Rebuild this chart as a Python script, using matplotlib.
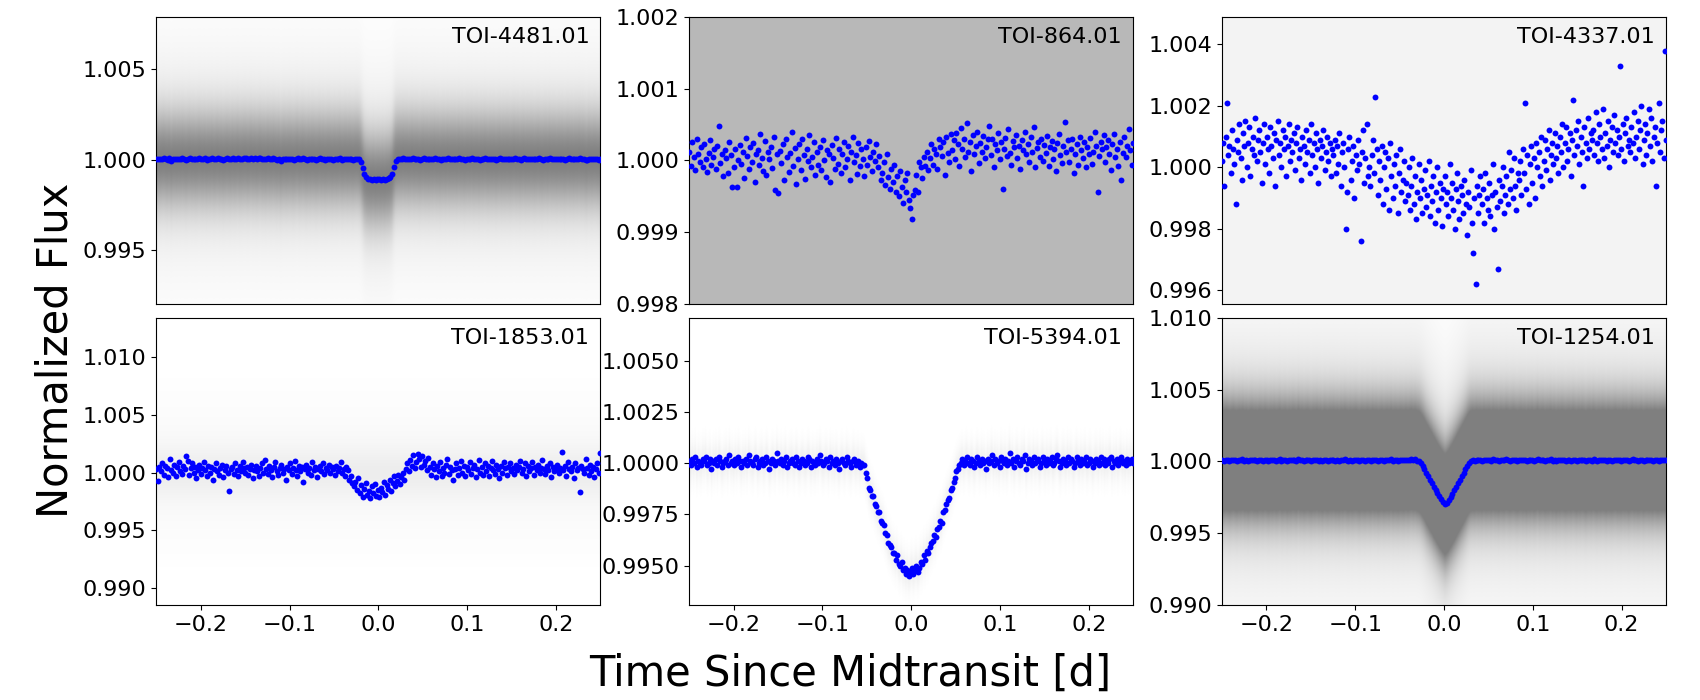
import matplotlib
matplotlib.use("Agg")
import matplotlib.pyplot as plt
from matplotlib.ticker import FormatStrFormatter
import numpy as np

# binned flux per target, offsets from 1.0 (scale given in flux_unit)
toi_names = ["TOI-4481.01", "TOI-864.01", "TOI-4337.01",
             "TOI-1853.01", "TOI-5394.01", "TOI-1254.01"]

flux_4481 = [
    4, 6, 2, 5, 8, 3, 1, 7, -6, 4, 5, 2, 6, 3, 7, 4, 1, 5, 8, 3, 6, 2, 4, 9,
    5, 3, 7, 1, 6, 4, 8, 2, 5, 9, 3, 6, 1, 4, 7, 5, 2, 8, 4, 6, 10, 3, 5, 7,
    9, 4, 6, 11, 5, 8, 3, 7, 10, 4, 6, 2, 8, 5, 3, 7, 4, 1, 6, -5, 3, 5, 2, 4,
    6, 3, 1, 5, 10, 2, 4, 7, 3, 0, 5, 2, 6, 4, 1, 3, 7, 2, 5, 0, 4, 6, 3, 1,
    5, 2, 4, 7, 1, 3, 6, 2, 5, 3, 1, 4, 6, 2, -12, -45, -80, -98, -104, -108, -110, -105, -112, -109,
    -107, -111, -106, -110, -104, -102, -95, -78, -38, -6, 2, 5, 3, 7, 4, 6, 2, 5, 8, 3, 6, 4, 1, 5,
    7, 3, 5, 2, 6, 4, 8, 3, 5, 1, 4, 6, 2, 7, 3, 5, 4, 6, 2, 8, 3, 5, 1, 4,
    6, 3, 7, 2, 4, 5, 1, 6, 3, 8, 4, 2, 5, 3, 6, 1, 4, 7, 2, 5, 3, 6, 4, 2,
    5, 8, 3, 6, 1, 4, 7, 2, 5, 3, 6, 4, 2, 5, 7, 3, 1, 4, 6, 2, 8, 3, 5, 4,
    2, 6, 3, 5, 1, 4, 7, 3, 5, 2, 6, 4, 8, 3, 5, 1, -4, 6, 3, 2, 5, 4, 1, 3]

flux_864 = [
    12, -8, 25, 5, -14, 30, 8, -3, 18, -10, 22, 2, -16, 10, 28, -6, 4, 15, -12, 20, 48, -4, 9, -22, 14, 3, -18, 26, 7, -38,
    -9, 16, -38, 0, 21, -5, 11, -25, 31, 6, -12, 18, -2, 24, -30, 9, 14, -7, 36, 3, -15, 27, -20, 12, 1, 19, -11, 33, -41, 8,
    -46, 13, -4, 22, -28, 29, 5, -17, 10, 40, -8, 17, -33, 2, 23, -13, 30, 7, -26, 15, -1, 35, -10, 4, 26, -21, 11, -6, 19, -14,
    28, 0, -24, 14, 8, -31, 21, 3, -12, 31, -5, 16, -18, 9, 25, -9, 2, 20, -27, 12, 33, -3, 7, -19, 24, -8, 15, 1, -22, 18,
    -6, 27, 4, -15, 11, -1, 22, -10, 6, -28, -18, -2, -35, 8, -24, -40, -12, -30, -6, -44, -22, -50, -15, -38, -60, -28, -45, -18, -55, -66,
    -82, -48, -42, -20, -45, -2, -10, -25, 5, -8, 12, -14, 3, 22, -6, 15, 8, -12, 30, 18, 6, 25, -20, 33, 10, -3, 36, 14, 28, 2,
    38, 22, -8, 45, 16, 30, 5, 52, 12, 26, -15, 35, 8, 20, 40, -4, 24, 11, 34, 3, 18, 29, 48, 7, 30, -9, 22, 14, 38, 2,
    25, -40, 16, 31, 6, 43, 10, -6, 27, 18, 35, 3, 20, -12, 28, 14, 40, 8, 22, -3, 33, 12, 46, -10, 17, 26, 5, 30, -1, 21,
    10, 34, -8, 18, 27, 2, 15, -15, 24, 36, 7, -4, 20, 53, 12, 28, -2, 16, 30, -18, 8, 22, -6, 33, 14, 3, 26, -10, 19, 9,
    31, -5, 12, 40, 20, -45, 6, 25, 15, 35, -2, 18, 28, 8, -14, 22, 36, 4, 16, -8, 26, -28, 10, 32, 5, 20, 44, 14, -6, 24]

flux_4337 = [
    2, 8, -6, 10, 21, 4, 7, -2, 12, 6, 1, -12, 9, 5, 14, 3, -4, 11, 7, 15, 0, 8, 13, -3, 6, 10, 4, 16, 2, 9,
    12, 5, -5, 8, 14, 1, 10, 6, -2, 13, 7, 3, 11, -6, 9, 15, 4, 8, 0, 12, 6, 10, -3, 7, 14, 2, 9, 5, 11, -1,
    8, 13, 3, 6, -4, 10, 7, 1, 12, 5, 9, -2, 14, 4, 8, 0, 11, 6, -5, 9, 3, 7, 12, -1, 5, 10, 2, 8, -3, 6,
    4, 9, -2, 7, 1, 11, -6, 5, 8, 0, -20, -8, 6, 10, -4, 2, 7, -10, 4, -1, 9, 1, -24, 5, 12, -5, 3, 14, -3, 0,
    -6, 4, 9, -2, 23, 6, -9, 2, -4, 7, -12, 0, 5, -7, 3, -14, 8, -3, -10, 1, -6, 4, -15, -2, 6, -8, -4, 2, -11, -5,
    -9, 0, -14, -6, 3, -12, -3, -17, -8, 1, -10, -4, -15, -7, -1, -13, -9, 2, -16, -6, -11, -3, -18, -8, 0, -14, -5, -10, -19, -7,
    -3, -12, -8, -16, 1, -10, -5, -14, -20, -7, -2, -11, -17, -6, -9, -15, -4, -12, -22, -8, -13, -1, -18, -28, -10, -38, -6, -15, -9, -3,
    -12, -7, -18, -2, -10, -14, -5, -16, -9, 1, -20, -8, -13, -33, -4, -11, -6, 0, -15, -9, -3, -12, 5, -7, -1, -10, 3, -6, -14, -2,
    -4, 2, -9, 6, -2, 21, -7, 4, -12, 1, 7, -5, 3, -10, 8, 0, 5, -3, 10, -6, 2, 9, -1, 6, 12, -4, 4, 8, 1, 11,
    3, 7, -2, 10, 5, 14, 0, 8, 13, 2, 6, 11, -3, 9, 22, 4, 12, 7, 15, 1, 10, 5, -6, 13, 8, 3, 16, 6, 11, 9,
    12, 4, 18, 8, 2, 14, 10, 6, 19, 3, 11, 7, 15, 0, 9, 13, 5, 17, 8, 12, 4, 10, 33, 6, 14, 2, 11, 16, 7, 9,
    5, 13, 8, 18, 3, 10, 15, 6, 12, 20, 1, 9, 14, 4, 11, 19, 7, 16, 2, 10, 13, -6, 8, 21, 5, 12, 15, 3, 38, 9]

flux_1853 = [
    3, -7, 5, 1, 8, -2, 6, 4, -4, 12, 2, 0, 7, -3, 5, 9, 1, -1, 6, 3, 14, 10, -2, 4, 8, 0, 5, -5, 2, 7,
    -1, 4, 9, 2, -3, 6, 0, 5, -6, 3, 8, 1, -2, 4, 7, -4, 2, 6, 0, -16, 3, 5, -1, 8, 2, -3, 6, 1, 9, 4,
    0, 5, -2, 3, 7, -5, 2, 6, 1, -3, 4, 8, 0, 11, 3, -1, 6, 2, -4, 5, 9, 1, -2, 4, 7, 0, 3, -6, 5, 2,
    8, -1, 4, 10, 2, -3, 6, 1, 5, -8, 3, 7, 0, 4, -2, 9, 2, 5, -4, 3, 6, 1, 8, -1, 4, 2, 7, 0, 5, 3,
    -2, 6, 1, 4, 9, 0, 3, -3, 5, 2, -6, -3, -9, -12, -8, -15, -5, -18, -11, -21, -14, -9, -19, -16, -22, -12, -18, -10, -20, -15,
    -21, -13, -17, -8, -19, -11, -14, -6, -16, -9, -3, -12, -7, -2, -10, -4, 0, -6, 3, 8, 1, 11, 6, 15, 4, 9, 16, 12, 5, 14,
    7, 10, 2, 13, 5, -2, 8, 3, -4, 6, 1, 9, -3, 4, 0, 7, 12, -1, 5, 2, -6, 3, 8, -2, 4, 10, 0, 6, -3, 5,
    2, 9, -1, 4, 7, -4, 3, 11, 0, 5, -2, 8, 1, 6, -3, 4, 10, 2, -1, 7, 3, -5, 6, 0, 9, 4, -2, 5, 8, 1,
    4, -1, 7, 2, 5, 10, 0, 3, 8, -3, 6, 1, 4, 9, -2, 5, 2, 7, 0, 4, 11, 3, -1, 6, 2, 8, -4, 5, 1, 3,
    7, 0, 4, 18, 2, 6, -3, 9, 3, 1, 5, -5, 8, 2, 4, -17, 6, 3, 0, 12, 4, -2, 7, 1, 5, -4, 3, 8, 0, 17]

flux_5394 = [
    1, -1, 2, 0, 3, -2, 1, 0, -1, 2, 1, 3, -1, 0, 2, -3, 1, 0, 2, -1, 3, 1, -2, 0, 1, 2, -1, 4, 0, 1,
    -1, 2, 0, 3, 1, -2, 1, 0, 2, -1, 4, 1, 0, -1, 2, 3, -2, 0, 1, 2, -1, 0, 3, 1, -3, 0, 2, 1, -1, 5,
    1, 0, 2, -1, 1, 3, -2, 0, 1, 2, 0, -1, 3, 1, -2, 0, 2, 1, -1, 0, 3, 2, -2, 1, 0, -1, 2, 0, 4, 1,
    -1, 0, 2, 1, -2, 3, 0, 1, -1, 2, 0, -3, 1, 2, 0, -1, 3, 1, 0, -2, 1, 2, -1, 0, 1, -2, 0, -1,
    -1, -5, -7, -12, -13, -16, -16, -20, -21, -24, -24, -28, -29, -30, -34, -35, -39, -40, -41, -44,
    -44, -47, -45, -49, -50, -48, -52, -51, -54, -52, -55, -53, -51, -54, -52, -50, -53, -51, -48, -49,
    -45, -47, -43, -44, -41, -39, -38, -35, -36, -32, -31, -28, -29, -24, -23, -20, -18, -17, -13, -12,
    -9, -7, -4, -3, -1,
    0, 2, -1, 1, 3, 0, -1, 2, 1, -2, 0, 3, 1, -1, 2, 0, 1, -3, 2, 0, 1, 4, -1, 2, 0, 1, -2, 3, 1, 0,
    2, -1, 1, 5, 0, 2, -2, 1, 3, 0, -1, 2, 1, 4, -3, 0, 2, 1, -1, 3, 0, 1, 2, -2, 0, 3, 1, -1, 2, 0,
    1, 3, -1, 0, 2, 4, 1, -2, 0, 2, 1, -1, 3, 0, 2, 1, -2, 0, 3, 1, -1, 2, 0, 1, 3, -1, 0, 2, 1, -2,
    0, 2, 1, -1, 3, 0, 2, -1, 1, 0, 2, 3, -2, 1, 0, 2, -1, 1, 3, 0, 1, -1, 2, 0, 1, 2, 0]

flux_1254 = [
    10, 6, 12, 8, 4, 9, 13, 7, 5, 11, 8, 14, 6, 9, 3, 10, 12, 7, 8, 5, 11, 9, 6, 13,
    8, 4, 10, 7, 12, 6, 9, 15, 5, 8, 11, 3, 9, 7, 13, 10, 6, 18, 8, 11, 5, 9, 12, 7,
    4, 10, 8, 13, 6, 9, 2, 11, 7, 5, 10, 8, 12, 6, 9, 4, 11, 7, 14, 8, 5, 10, 6, 9,
    12, 7, 3, 10, 8, 6, 11, 9, 5, 13, 7, 10, 4, 8, 12, 6, 9, 11, 7, 14, 5, 10, 8, 6,
    11, 9, 7, 13, 8, 12, 16, 10, 14, 6,
    2, -12, -32, -55, -82, -104, -128, -150, -176, -198, -222, -244, -264, -282, -298,
    -288, -270, -248, -226, -202, -178, -152, -128, -104, -80, -55, -30, -8, 4,
    9, 6, 12, 8, 10, 5, 13, 7, 9, 11, 6, 14, 8, 10, 4, 12, 9, 7, 15, 11, 6, 10, 13, 8, 5,
    9, 12, 7, 10, 4, 11, 8, 13, 6, 9, 18, 7, 10, 12, 5, 9, 8, 14, 6, 11, 3, 10, 7, 12, 9,
    5, 8, 11, 6, 13, 9, 4, 10, 7, 12, 8, 2, 9, 11, 6, 14, 8, 5, 10, 7, 12, 9, 4, 11, 8,
    6, 10, 13, 7, 9, 5, 12, 8, 11, 3, 9, 14, 7, 10, 6, 8, 12, 4, 9, 11, 7, 10, 5, 13, 8, 6, 10, 9, 12, 7]

flux_lists = [flux_4481, flux_864, flux_4337, flux_1853, flux_5394, flux_1254]
flux_unit = [1e-5, 1e-5, 1e-4, 1e-4, 1e-4, 1e-5]

# unbinned point cloud, read as density: (opacity, spread in flux) per component
cloud_parts = [
    [(0.8, 0.0018), (0.2, 0.004)],
    [(0.55, 1.0)],
    [(0.09, 1.0)],
    [(0.08, 0.0015), (0.06, 0.0035)],
    [(0.12, 0.0006)],
    [(2.0, 0.0025), (0.3, 0.006)],
]
cloud_follows_model = [True, False, False, False, True, True]

ylims = [(0.99205, 1.0079), (0.998, 1.002), (0.99556, 1.0049),
         (0.98855, 1.0134), (0.99309, 1.00709), (0.990, 1.010)]
yticks = [[0.995, 1.000, 1.005],
          [0.998, 0.999, 1.000, 1.001, 1.002],
          [0.996, 0.998, 1.000, 1.002, 1.004],
          [0.990, 0.995, 1.000, 1.005, 1.010],
          [0.9950, 0.9975, 1.0000, 1.0025, 1.0050],
          [0.990, 0.995, 1.000, 1.005, 1.010]]
ytick_fmt = ['%.3f', '%.3f', '%.3f', '%.3f', '%.4f', '%.3f']

fig = plt.figure(figsize=(17, 7), dpi=100)
axes = fig.subplots(2, 3)
fig.subplots_adjust(left=0.092, right=0.98, top=0.976, bottom=0.136,
                    wspace=0.2, hspace=0.05)

for i, ax in enumerate(axes.flat):
    flux = 1.0 + np.array(flux_lists[i]) * flux_unit[i]
    t = np.linspace(-0.25, 0.25, len(flux))
    ylo, yhi = ylims[i]

    # gray cloud of unbinned points as a density image
    xg = np.linspace(-0.25, 0.25, 600)
    yg = np.linspace(ylo, yhi, 500)
    if cloud_follows_model[i]:
        center = np.interp(xg, t, flux)
    else:
        center = np.ones_like(xg)
    dy = yg[:, None] - center[None, :]
    dens = np.zeros_like(dy)
    for amp, sig in cloud_parts[i]:
        dens += amp * np.exp(-0.5 * (dy / sig) ** 2)
    rgba = np.zeros(dy.shape + (4,))
    rgba[..., :3] = 0.5
    rgba[..., 3] = np.clip(dens, 0, 1)
    ax.imshow(rgba, extent=[-0.25, 0.25, ylo, yhi], origin='lower',
              aspect='auto', interpolation='bilinear', zorder=1)

    ax.scatter(t, flux, s=18, color='blue', zorder=3, linewidths=0)
    ax.text(0.975, 0.93, toi_names[i], transform=ax.transAxes,
            ha='right', va='center', fontsize=16)
    ax.set_xlim(-0.25, 0.25)
    ax.set_ylim(ylo, yhi)
    ax.set_yticks(yticks[i])
    ax.yaxis.set_major_formatter(FormatStrFormatter(ytick_fmt[i]))
    ax.set_xticks([-0.2, -0.1, 0.0, 0.1, 0.2])
    ax.tick_params(labelsize=16)
    if i < 3:
        ax.tick_params(axis='x', bottom=False, labelbottom=False)

fig.supxlabel("Time Since Midtransit [d]", fontsize=30, y=0.008)
fig.supylabel("Normalized Flux", fontsize=30, x=0.02)

fig.savefig("out.png", dpi=100)
